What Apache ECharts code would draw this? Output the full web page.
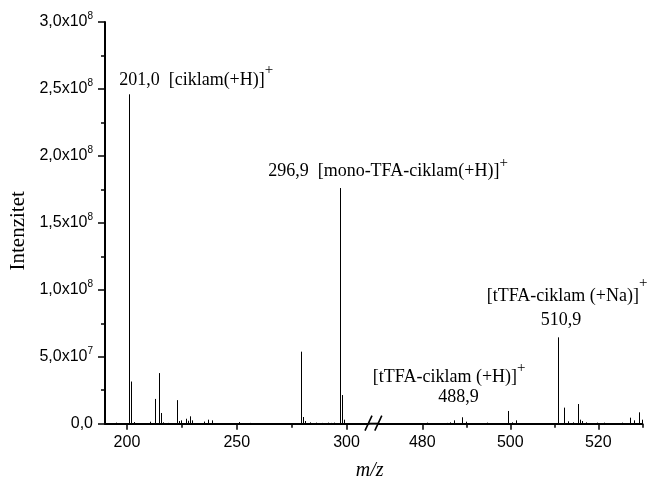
<!DOCTYPE html>
<html><head><meta charset="utf-8">
<script src="https://cdn.jsdelivr.net/npm/echarts@6/dist/echarts.min.js"></script>
<style>html,body{margin:0;padding:0;background:#fff}#c{width:655px;height:480px}</style>
</head><body><div id="c"></div>
<script>
// ---- data ----
const leftMz  = [195.0, 201.0, 202.0, 203.0, 210.5, 212.6, 214.6, 215.6, 216.5, 218.5, 222.7, 223.6, 224.6, 226.7, 227.6, 228.7, 229.7, 234.9, 236.7, 238.7, 243.0, 251.0, 256.0, 279.1, 280.3, 281.3, 283.2, 286.3, 289.0, 291.5, 293.0, 294.5, 296.9, 297.9, 298.9, 301.0];
const leftInt = [0.8e6, 246e6, 31.5e6, 1.2e6, 1.5e6, 18.5e6, 37.8e6, 8.0e6, 1.0e6, 0.6e6, 17.6e6, 2.0e6, 2.5e6, 3.7e6, 2.2e6, 5.5e6, 2.5e6, 1.6e6, 3.0e6, 2.5e6, 0.5e6, 1.2e6, 0.6e6, 53.8e6, 5.0e6, 2.0e6, 1.0e6, 0.8e6, 0.6e6, 0.8e6, 0.6e6, 0.8e6, 176e6, 21.4e6, 3.0e6, 0.5e6];
const rightMz  = [481.0, 483.0, 485.5, 486.3, 487.2, 489.0, 489.9, 494.7, 499.4, 500.4, 501.4, 505.0, 510.9, 512.3, 513.1, 514.2, 515.4, 515.9, 516.4, 517.2, 519.7, 521.4, 523.5, 525.4, 527.2, 528.1, 529.3, 529.9];
const rightInt = [0.8e6, 0.5e6, 0.6e6, 1.0e6, 2.5e6, 4.8e6, 1.5e6, 0.8e6, 9.5e6, 1.0e6, 2.5e6, 0.5e6, 64.5e6, 12e6, 1.8e6, 1.0e6, 14.7e6, 3.0e6, 2.0e6, 1.0e6, 0.8e6, 0.8e6, 0.5e6, 0.8e6, 4.5e6, 2.5e6, 8.5e6, 3.0e6];
const leftRange = [190, 310];
const rightRange = [470, 530];
const leftMajorTicks = [200, 250, 300];
const leftMinorTicks = [225, 275];
const rightMajorTicks = [480, 500, 520];
const rightMinorTicks = [490, 510, 530];
const yRange = [0, 3e8];
const yStep = 5e7;
const annMz = [201.0, 296.9, 488.9, 510.9];
const annMzText = ['201,0', '296,9', '488,9', '510,9'];
const annIon = ['[ciklam(+H)]', '[mono-TFA-ciklam(+H)]', '[tTFA-ciklam (+H)]', '[tTFA-ciklam (+Na)]'];
const yTitle = 'Intenzitet';
const xTitle = 'm/z';

// ---- layout / style ----
const SERIF = '"Liberation Serif", "Times New Roman", serif';
const SANS = '"Liberation Sans", Arial, sans-serif';
const annLayout = [
  {inline: true, dx: -10, dy: -14, raise: 12.5},
  {inline: true, dx: -71.6, dy: -16.5, raise: 10.5},
  {inline: false, dx: -88.7, dy: -39.7, mdx: -3, mdy: -20.2, raise: 12},
  {inline: false, dx: -71.6, dy: -41.3, mdx: 2.7, mdy: -17.3, raise: 15}
];

function intensityAt(mz) {
  const all = leftMz.map((m, i) => [m, leftInt[i]]).concat(rightMz.map((m, i) => [m, rightInt[i]]));
  let best = all[0];
  all.forEach(p => { if (Math.abs(p[0] - mz) < Math.abs(best[0] - mz)) best = p; });
  return best[1];
}

function peakRender(params, api) {
  const top = api.coord([api.value(0), api.value(1)]);
  const base = api.coord([api.value(0), 0]);
  const x = Math.round(top[0]) + 0.5;
  return {type: 'line', shape: {x1: x, y1: base[1], x2: x, y2: top[1]}, style: {stroke: '#000', lineWidth: 1}};
}

function annRender(params, api) {
  const i = api.value(2);
  const L = annLayout[i];
  const p = api.coord([api.value(0), api.value(1)]);
  const rich = {
    t: {fontFamily: SERIF, fontSize: 18, lineHeight: 2 * L.raise + 10, fill: '#000'},
    s: {fontFamily: SERIF, fontSize: 15, lineHeight: 10, verticalAlign: 'top', fill: '#000'}
  };
  const children = [];
  const ionStr = L.inline ? annMzText[i] + '  ' + annIon[i] : annIon[i];
  children.push({type: 'text', x: p[0] + L.dx, y: p[1] + L.dy,
    style: {text: '{t|' + ionStr + '}{s|+}', rich: rich, align: 'left', verticalAlign: 'middle', fill: '#000'}});
  if (!L.inline) {
    children.push({type: 'text', x: p[0] + L.mdx, y: p[1] + L.mdy,
      style: {text: annMzText[i], fontFamily: SERIF, fontSize: 18, align: 'center', verticalAlign: 'middle', fill: '#000'}});
  }
  return {type: 'group', children: children};
}

function yFmt(v) {
  if (v === 0) return '{a|0,0}';
  const e = Math.floor(Math.log10(v) + 1e-9);
  const m = (v / Math.pow(10, e)).toFixed(1).replace('.', ',');
  return '{a|' + m + 'x10}{s|' + e + '}';
}

function xAxisPair(grid, range, majors, minors) {
  const common = {type: 'value', gridIndex: grid, min: range[0], max: range[1], position: 'bottom', splitLine: {show: false}};
  return [
    Object.assign({}, common, {
      axisLine: {show: true, onZero: false, lineStyle: {color: '#000', width: 2}},
      axisTick: {show: true, customValues: majors, length: 6, lineStyle: {color: '#000', width: 1.5}},
      axisLabel: {show: true, customValues: majors, margin: 11, color: '#000', fontFamily: SANS, fontSize: 16}
    }),
    Object.assign({}, common, {
      axisLine: {show: false},
      axisTick: {show: true, customValues: minors, length: 4, lineStyle: {color: '#000', width: 1.5}},
      axisLabel: {show: false}
    })
  ];
}

const chart = echarts.init(document.getElementById('c'), null, {renderer: 'canvas'});
const leftData = leftMz.map((m, i) => [m, leftInt[i]]);
const rightData = rightMz.map((m, i) => [m, rightInt[i]]);
const annLeft = [], annRight = [];
annMz.forEach((m, i) => {
  const d = [m, intensityAt(m), i];
  if (m <= leftRange[1]) annLeft.push(d); else annRight.push(d);
});

chart.setOption({
  animation: false,
  backgroundColor: '#fff',
  grid: [
    {left: 105, top: 22, width: 263.5, height: 401.7},
    {left: 378.3, top: 22, width: 264, height: 401.7}
  ],
  xAxis: xAxisPair(0, leftRange, leftMajorTicks, leftMinorTicks).concat(xAxisPair(1, rightRange, rightMajorTicks, rightMinorTicks)),
  yAxis: [
    {type: 'value', gridIndex: 0, min: yRange[0], max: yRange[1], interval: yStep,
      axisLine: {show: true, lineStyle: {color: '#000', width: 2}},
      axisTick: {show: true, length: 7, lineStyle: {color: '#000', width: 1.5}},
      minorTick: {show: true, splitNumber: 2, length: 4, lineStyle: {color: '#000', width: 1.5}},
      splitLine: {show: false}, minorSplitLine: {show: false},
      axisLabel: {margin: 12, formatter: yFmt, color: '#000',
        rich: {a: {fontFamily: SANS, fontSize: 16, lineHeight: 22, color: '#000'},
               s: {fontFamily: SANS, fontSize: 10, lineHeight: 8, verticalAlign: 'top', color: '#000'}}}},
    {type: 'value', gridIndex: 1, min: yRange[0], max: yRange[1], interval: yStep, show: false, splitLine: {show: false}}
  ],
  series: [
    {type: 'custom', xAxisIndex: 0, yAxisIndex: 0, data: leftData, renderItem: peakRender, clip: false, silent: true},
    {type: 'custom', xAxisIndex: 2, yAxisIndex: 1, data: rightData, renderItem: peakRender, clip: false, silent: true},
    {type: 'custom', xAxisIndex: 0, yAxisIndex: 0, data: annLeft, renderItem: annRender, clip: false, silent: true, z: 5},
    {type: 'custom', xAxisIndex: 2, yAxisIndex: 1, data: annRight, renderItem: annRender, clip: false, silent: true, z: 5}
  ]
});

// break marks, axis titles
const xL = chart.convertToPixel({xAxisIndex: 0}, leftRange[1]);
const xR = chart.convertToPixel({xAxisIndex: 2}, rightRange[0]);
const y0 = chart.convertToPixel({yAxisIndex: 0}, 0);
const yMid = chart.convertToPixel({yAxisIndex: 0}, (yRange[0] + yRange[1]) / 2);
const xStart = chart.convertToPixel({xAxisIndex: 0}, leftRange[0]);
const xEnd = chart.convertToPixel({xAxisIndex: 2}, rightRange[1]);
const slash = (cx) => ({type: 'line', shape: {x1: cx - 3.5, y1: y0 + 7, x2: cx + 3.5, y2: y0 - 8}, style: {stroke: '#000', lineWidth: 1.6}});
chart.setOption({
  graphic: [
    {type: 'line', shape: {x1: xL, y1: y0, x2: xR, y2: y0}, style: {stroke: '#000', lineWidth: 2}},
    Object.assign(slash(xL), {}),
    Object.assign(slash(xR), {}),
    {type: 'text', x: 18, y: yMid + 8, rotation: Math.PI / 2,
      style: {text: yTitle, fontFamily: SERIF, fontSize: 21, align: 'center', verticalAlign: 'middle', fill: '#000'}},
    {type: 'text', x: (xStart + xEnd) / 2 - 4, y: 471,
      style: {text: xTitle, fontFamily: SERIF, fontStyle: 'italic', fontSize: 20, align: 'center', verticalAlign: 'middle', fill: '#000'}}
  ]
});
</script>
</body></html>
